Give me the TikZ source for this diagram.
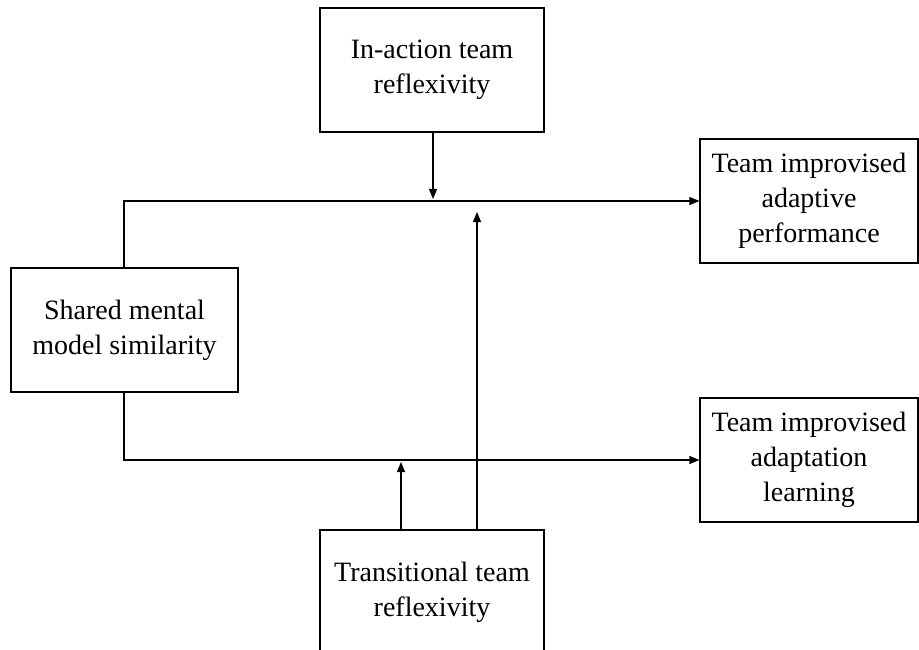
\documentclass[tikz,border=0pt]{standalone}
\usepackage{fontspec}
\setmainfont{Liberation Serif}
\usetikzlibrary{arrows.meta}

\begin{document}
\begin{tikzpicture}[x=1pt,y=-1pt,>={Triangle[length=10pt,width=8pt]},line width=1.1pt,
	box/.style={draw,align=center,minimum height=124pt,inner sep=0pt,font=\fontsize{28}{35}\selectfont}]
			\clip (0,0) rectangle (919,650);
			\node[box,minimum width=224pt] (inaction) at (432,70) {In-action team\\reflexivity};
			\node[box,minimum width=227pt] (smm) at (124.5,330) {Shared mental\\model similarity};
			\node[box,minimum width=218pt] (perf) at (809,201) {Team improvised\\adaptive\\performance};
			\node[box,minimum width=218pt] (learn) at (809,460) {Team improvised\\adaptation\\learning};
			\node[box,minimum width=224pt] (trans) at (432,592) {Transitional team\\reflexivity};
			\coordinate (c1) at (433,199);
			\coordinate (c2) at (401,462);
			\coordinate (c3) at (477,212);
			\draw[->] (smm.north -| 124,0) |- (perf.west);
			\draw[->] (smm.south -| 124,0) |- (learn.west);
			\draw[->] (inaction.south -| c1) -- (c1);
			\draw[->] (trans.north -| c2) -- (c2);
			\draw[->] (trans.north -| c3) -- (c3);
		\end{tikzpicture}
\end{document}
